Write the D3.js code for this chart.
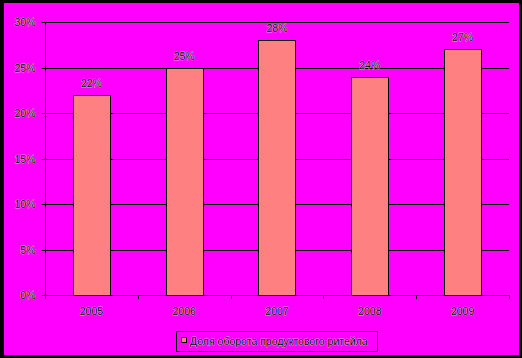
<!DOCTYPE html>
<html><head><meta charset="utf-8">
<script src="https://cdn.jsdelivr.net/npm/d3@7"></script>
<style>html,body{margin:0;padding:0;background:#000;}svg{display:block;}</style>
</head><body>
<script>
const categories = ["2005","2006","2007","2008","2009"];
const values = [22,25,28,24,27];
const yTicks = [0,5,10,15,20,25,30];
const seriesName = "Доля оборота продуктового ритейла";

(function(){
const W=522,H=358;
const svg=d3.select("body").append("svg").attr("width",W).attr("height",H);
svg.append("rect").attr("width",W).attr("height",H).attr("fill","#000");
svg.append("rect").attr("x",4).attr("y",3).attr("width",515).attr("height",352).attr("fill","#FF00FF");

const pL=45,pR=509,pT=22,pB=295;
const x=d3.scaleBand().domain(categories).range([pL,pR]).paddingInner(0.6).paddingOuter(0.3);
const y=d3.scaleLinear().domain([0,30]).range([pB,pT]);
const font="Arial, 'Liberation Sans', sans-serif";

function txt(sel){
  return sel.attr("font-family",font).attr("font-size","10.5px").attr("fill","#000")
    .attr("stroke","#fff").attr("stroke-width",0.5).attr("paint-order","stroke");
}

// gridlines
svg.append("g").selectAll("line").data(yTicks.filter(d=>d>0)).join("line")
  .attr("x1",pL).attr("x2",pR).attr("y1",d=>Math.round(y(d))+0.5).attr("y2",d=>Math.round(y(d))+0.5)
  .attr("stroke","#000").attr("stroke-width",1);

// bars
svg.append("g").selectAll("rect").data(values).join("rect")
  .attr("x",(d,i)=>Math.round(x(categories[i]))+0.5).attr("y",d=>Math.round(y(d))+0.5)
  .attr("width",Math.round(x.bandwidth())).attr("height",d=>Math.round(y(0))-Math.round(y(d)))
  .attr("fill","#FF8080").attr("stroke","#000").attr("stroke-width",1);

// y axis
const ya=svg.append("g").attr("transform",`translate(${pL+0.5},0.5)`)
  .call(d3.axisLeft(y).tickValues(yTicks).tickFormat(d=>d+"%").tickSize(4).tickPadding(6));
ya.select(".domain").attr("d",`M-4,${Math.round(y(30))}H0V${Math.round(y(0))}`).attr("stroke","#000");
ya.selectAll("line").attr("stroke","#000");
ya.selectAll(".tick").attr("transform",d=>`translate(0,${Math.round(y(d))})`);
ya.selectAll("text").call(txt).attr("dy","0.35em");

// x axis
const xTickPos=d3.range(categories.length+1).map(i=>pL+i*(pR-pL)/categories.length);
const xa=svg.append("g");
xa.append("line").attr("x1",pL).attr("x2",pR).attr("y1",pB+0.5).attr("y2",pB+0.5).attr("stroke","#000");
xa.selectAll("line.t").data(xTickPos).join("line").attr("class","t")
  .attr("x1",d=>Math.round(d)+0.5).attr("x2",d=>Math.round(d)+0.5).attr("y1",pB).attr("y2",pB+4).attr("stroke","#000");
xa.selectAll("text").data(categories).join("text")
  .attr("x",d=>x(d)+x.bandwidth()/2).attr("y",315).attr("text-anchor","middle").text(d=>d).call(txt);

// value labels
svg.append("g").selectAll("text").data(values).join("text")
  .attr("x",(d,i)=>x(categories[i])+x.bandwidth()/2).attr("y",d=>y(d)-8)
  .attr("text-anchor","middle").text(d=>d+"%").call(txt);

// legend
const lg=svg.append("g");
lg.append("rect").attr("x",176.5).attr("y",331.5).attr("width",201).attr("height",20).attr("fill","none").attr("stroke","#000");
lg.append("rect").attr("x",181.5).attr("y",337.5).attr("width",5).attr("height",5).attr("fill","#FF8080").attr("stroke","#000");
lg.append("text").attr("x",190).attr("y",345).text(seriesName).call(txt);
})();
</script>
</body></html>
